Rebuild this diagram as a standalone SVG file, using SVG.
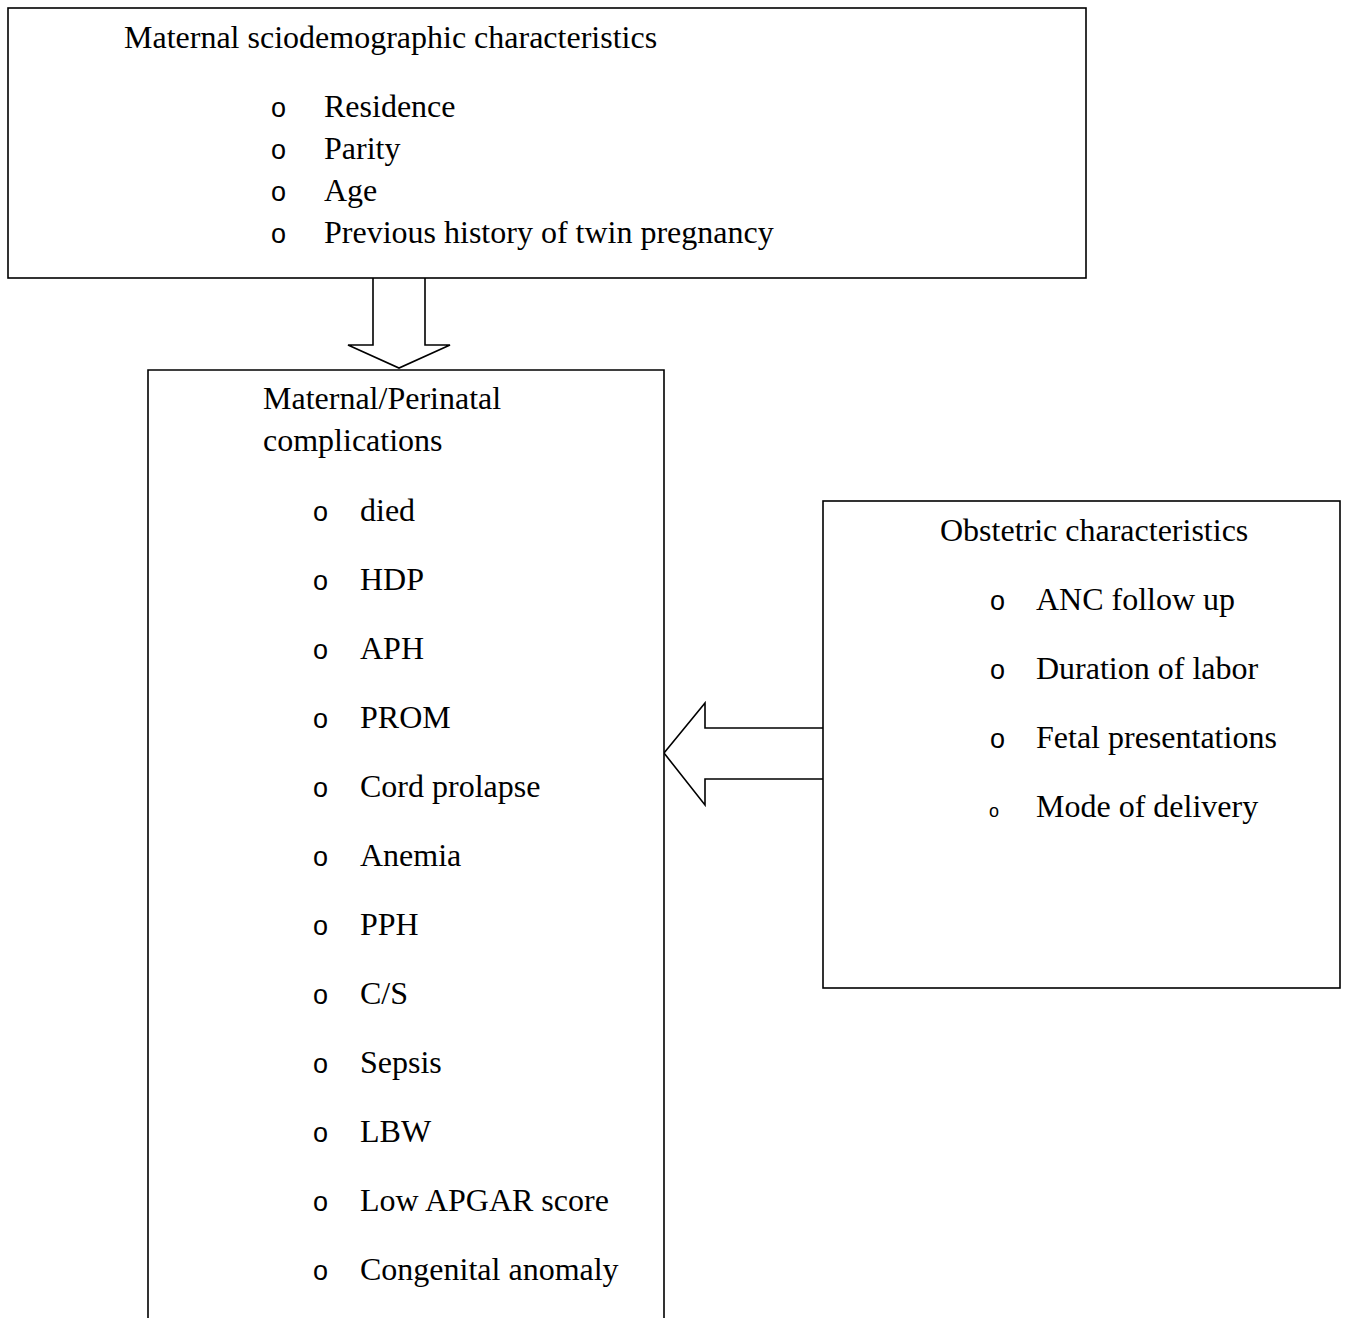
<svg xmlns="http://www.w3.org/2000/svg" width="1347" height="1318" viewBox="0 0 1347 1318">
<style>
.box{fill:#fff;stroke:#000;stroke-width:1.6}
.arrow{fill:#fff;stroke:#000;stroke-width:1.6;stroke-linejoin:miter}
text{font-family:"Liberation Serif","Times New Roman",serif;font-size:32px;fill:#000}
.b{font-family:"Liberation Sans",Arial,sans-serif;font-size:27px;font-weight:300}
.bs{font-family:"Liberation Sans",Arial,sans-serif;font-size:18px}
</style>
<rect width="1347" height="1318" fill="#fff"/>
<g id="connectors">
<path class="arrow" d="M373,278 L373,345 L348,345 L399,368 L450,345 L425,345 L425,278"/>
<path class="arrow" d="M823,728 L705,728 L705,703 L664,753 L705,805 L705,779 L823,779"/>
</g>
<g id="node-sociodemographic">
<rect class="box" x="8" y="8" width="1078" height="270"/>
<text x="124" y="48">Maternal sciodemographic characteristics</text>
<text class="b" x="271" y="117">o</text><text x="324" y="117">Residence</text>
<text class="b" x="271" y="159">o</text><text x="324" y="159">Parity</text>
<text class="b" x="271" y="201">o</text><text x="324" y="201">Age</text>
<text class="b" x="271" y="243">o</text><text x="324" y="243">Previous history of twin pregnancy</text>
</g>
<g id="node-complications">
<path class="box" d="M148,1320 L148,370 L664,370 L664,1320"/>
<text x="263" y="409">Maternal/Perinatal</text>
<text x="263" y="451">complications</text>
<text class="b" x="313" y="521">o</text><text x="360" y="521">died</text>
<text class="b" x="313" y="590">o</text><text x="360" y="590">HDP</text>
<text class="b" x="313" y="659">o</text><text x="360" y="659">APH</text>
<text class="b" x="313" y="728">o</text><text x="360" y="728">PROM</text>
<text class="b" x="313" y="797">o</text><text x="360" y="797">Cord prolapse</text>
<text class="b" x="313" y="866">o</text><text x="360" y="866">Anemia</text>
<text class="b" x="313" y="935">o</text><text x="360" y="935">PPH</text>
<text class="b" x="313" y="1004">o</text><text x="360" y="1004">C/S</text>
<text class="b" x="313" y="1073">o</text><text x="360" y="1073">Sepsis</text>
<text class="b" x="313" y="1142">o</text><text x="360" y="1142">LBW</text>
<text class="b" x="313" y="1211">o</text><text x="360" y="1211">Low APGAR score</text>
<text class="b" x="313" y="1280">o</text><text x="360" y="1280">Congenital anomaly</text>
</g>
<g id="node-obstetric">
<rect class="box" x="823" y="501" width="517" height="487"/>
<text x="940" y="541">Obstetric characteristics</text>
<text class="b" x="990" y="610">o</text><text x="1036" y="610">ANC follow up</text>
<text class="b" x="990" y="679">o</text><text x="1036" y="679">Duration of labor</text>
<text class="b" x="990" y="748">o</text><text x="1036" y="748">Fetal presentations</text>
<text class="bs" x="989" y="817">o</text><text x="1036" y="817">Mode of delivery</text>
</g>
</svg>
